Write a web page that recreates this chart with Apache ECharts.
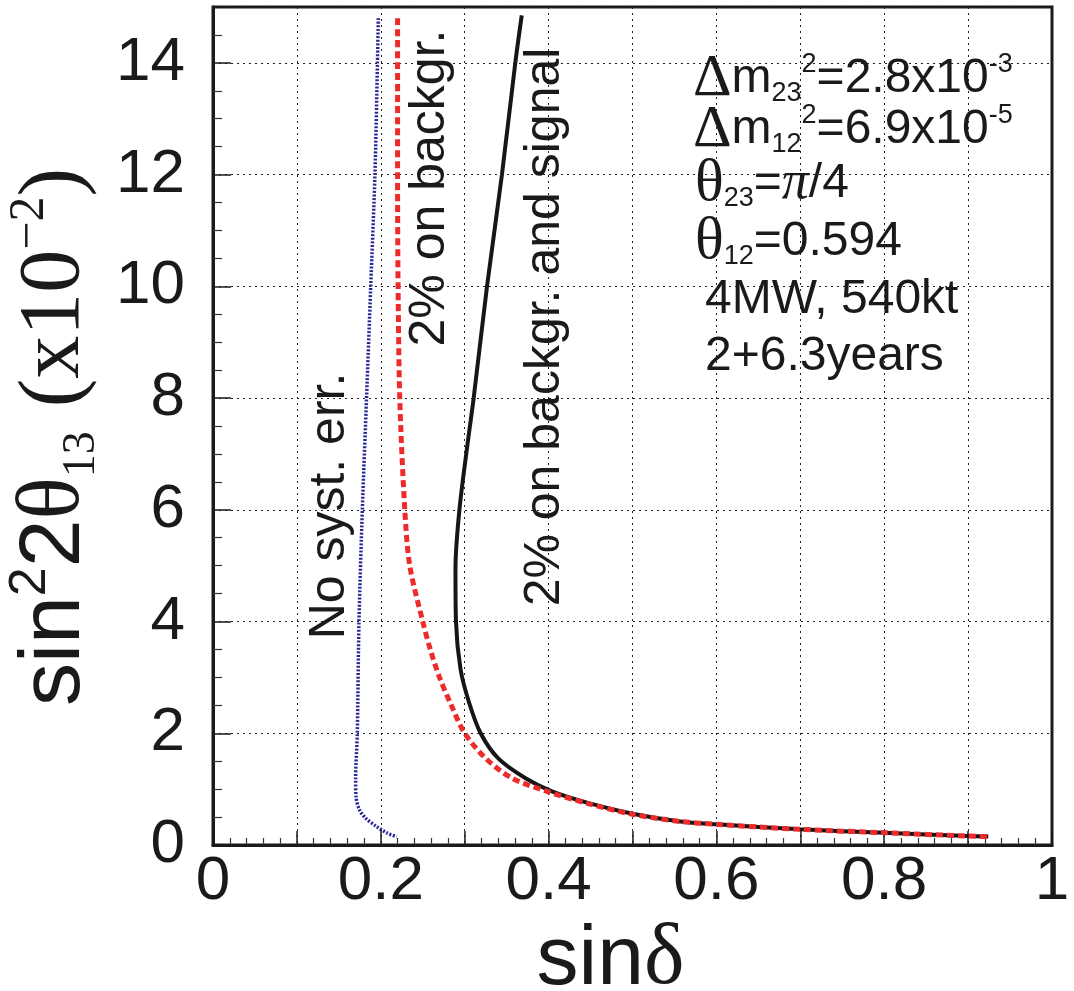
<!DOCTYPE html>
<html>
<head>
<meta charset="utf-8">
<script src="https://cdn.jsdelivr.net/npm/echarts@6/dist/echarts.min.js"></script>
<style>
html,body{margin:0;padding:0;background:#ffffff;}
#chart{width:1074px;height:991px;}
</style>
</head>
<body>
<div id="chart"></div>
<script>
// ---------- data ----------
const xTickLabels = ['0', '0.2', '0.4', '0.6', '0.8', '1'];
const yTickLabels = ['0', '2', '4', '6', '8', '10', '12', '14'];

// "No syst. err." (blue dotted)
const noSystX = [0.197, 0.196, 0.193, 0.188, 0.183, 0.178, 0.174, 0.172, 0.170, 0.1705, 0.1745, 0.182, 0.194, 0.208, 0.219];
const noSystY = [14.8, 14.0, 12.0, 10.0, 8.0, 6.0, 4.0, 2.0, 1.2, 0.86, 0.63, 0.48, 0.34, 0.21, 0.15];

// "2% on backgr." (red dashed)
const bkgX = [0.220, 0.220, 0.220, 0.2206, 0.2226, 0.2286, 0.2345, 0.250, 0.259, 0.270, 0.284, 0.300, 0.325, 0.356, 0.398, 0.445, 0.500, 0.557, 0.600, 0.700, 0.800, 0.900, 0.924];
const bkgY = [14.8, 14.0, 12.0, 10.0, 8.0, 6.0, 5.0, 4.0, 3.5, 3.0, 2.5, 2.0, 1.55, 1.2, 0.96, 0.75, 0.55, 0.42, 0.37, 0.28, 0.22, 0.16, 0.15];

// "2% on backgr. and signal" (black solid)
const bkgSigX = [0.368, 0.3603, 0.3444, 0.3266, 0.3107, 0.304, 0.2937, 0.289, 0.2896, 0.295, 0.305, 0.319, 0.340, 0.372, 0.404, 0.450, 0.500, 0.557, 0.600, 0.700, 0.800, 0.900, 0.924];
const bkgSigY = [14.85, 14.0, 12.0, 10.0, 8.0, 7.25, 6.0, 4.94, 4.0, 3.15, 2.56, 2.0, 1.55, 1.2, 0.96, 0.74, 0.56, 0.42, 0.37, 0.28, 0.22, 0.16, 0.15];

// ---------- styling ----------
const SANS = "'Liberation Sans', Arial, Helvetica, sans-serif";
const SERIF = "'Liberation Serif', 'Times New Roman', Times, serif";
const INK = '#1a1a1a';

const zip = (xs, ys) => xs.map((x, i) => [x, ys[i]]);

const chart = echarts.init(document.getElementById('chart'), null, {renderer: 'canvas'});

const blockRich = {
  t:   {fontFamily: SANS, fontSize: 48, lineHeight: 56, fill: INK},
  g:   {fontFamily: SERIF, fontSize: 60, lineHeight: 56, fill: INK},
  gi:  {fontFamily: SERIF, fontStyle: 'italic', fontSize: 54, lineHeight: 56, fill: INK},
  sub: {fontFamily: SANS, fontSize: 27, lineHeight: 50, verticalAlign: 'bottom', fill: INK},
  sup: {fontFamily: SANS, fontSize: 27, lineHeight: 41, verticalAlign: 'top', fill: INK}
};

function blockText(x, y, text) {
  return {
    type: 'text', x: x, y: y, z: 100,
    style: {text: text, rich: blockRich, fontFamily: SANS, fontSize: 48, fill: INK}
  };
}
function rotText(x, y, text) {
  return {
    type: 'text', x: x, y: y, rotation: Math.PI / 2, z: 100,
    style: {
      text: text, fontFamily: SANS, fontSize: 50, fill: INK,
      align: 'center', verticalAlign: 'middle',
      textAlign: 'center', textVerticalAlign: 'middle'
    }
  };
}

const option = {
  animation: false,
  backgroundColor: '#ffffff',
  grid: {
    left: 213, right: 22, top: 7, bottom: 146,
    outerBoundsMode: 'none', containLabel: false,
    show: true, borderColor: INK, borderWidth: 3, backgroundColor: 'transparent'
  },
  xAxis: {
    type: 'value', min: 0, max: 1, interval: 0.1,
    name: '{a|sin}{d|δ}',
    nameLocation: 'middle', nameGap: 57,
    nameTextStyle: {
      padding: [0, 44, 0, 0],
      rich: {
        a: {fontFamily: SANS, fontSize: 84, lineHeight: 92, color: INK},
        d: {fontFamily: SERIF, fontSize: 86, lineHeight: 92, color: INK}
      }
    },
    axisLine: {show: true, lineStyle: {color: INK, width: 3}},
    axisTick: {show: true, inside: true, length: 14, lineStyle: {color: INK, width: 1.5}},
    minorTick: {show: true, splitNumber: 5, length: 7, lineStyle: {color: '#333', width: 1.2}},
    splitLine: {show: true, lineStyle: {color: '#222', width: 1, type: [2, 4]}},
    axisLabel: {
      margin: 6, color: INK, fontFamily: SANS, fontSize: 62,
      formatter: function (v) {
        const i = Math.round(v * 5);
        return Math.abs(v * 5 - i) < 1e-6 && xTickLabels[i] !== undefined ? xTickLabels[i] : '';
      }
    }
  },
  yAxis: {
    type: 'value', min: 0, max: 15, interval: 2,
    name: '{a|sin}{sp|2}{a|2}{g|θ}{sb|13}{a| }{s|(x10}{ss|−2}{s|)}',
    nameLocation: 'middle', nameGap: 83, nameRotate: 90,
    nameTextStyle: {
      padding: [0, 22, 0, 0],
      rich: {
        a:  {fontFamily: SANS, fontSize: 86, lineHeight: 100, color: INK},
        sp: {fontFamily: SANS, fontSize: 52, lineHeight: 66, verticalAlign: 'top', color: INK},
        g:  {fontFamily: SERIF, fontSize: 88, lineHeight: 100, color: INK},
        sb: {fontFamily: SERIF, fontSize: 46, lineHeight: 80, verticalAlign: 'bottom', color: INK},
        s:  {fontFamily: SERIF, fontSize: 86, lineHeight: 100, color: INK},
        ss: {fontFamily: SERIF, fontSize: 50, lineHeight: 60, verticalAlign: 'top', color: INK}
      }
    },
    axisLine: {show: true, lineStyle: {color: INK, width: 3}},
    axisTick: {show: true, inside: true, length: 18, lineStyle: {color: INK, width: 1.5}},
    minorTick: {show: true, splitNumber: 4, length: 9, lineStyle: {color: '#333', width: 1.2}},
    splitLine: {show: true, lineStyle: {color: '#222', width: 1, type: [2, 4]}},
    axisLabel: {
      margin: 28, color: INK, fontFamily: SANS, fontSize: 62,
      formatter: function (v) {
        const i = v / 2;
        return Number.isInteger(i) && yTickLabels[i] !== undefined ? yTickLabels[i] : '';
      }
    }
  },
  series: [
    {
      type: 'line', name: '2% on backgr. and signal',
      data: zip(bkgSigX, bkgSigY), symbol: 'none', smooth: 0.3, z: 2,
      lineStyle: {color: '#161616', width: 4}
    },
    {
      type: 'line', name: '2% on backgr.',
      data: zip(bkgX, bkgY), symbol: 'none', smooth: 0.3, z: 3,
      lineStyle: {color: '#ee2b2b', width: 5, type: [7, 4]}
    },
    {
      type: 'line', name: 'No syst. err.',
      data: zip(noSystX, noSystY), symbol: 'none', smooth: 0.3, z: 4,
      lineStyle: {color: '#27279a', width: 3.5, type: [2, 1.6]}
    }
  ],
  graphic: [
    rotText(330, 506, 'No syst. err.'),
    rotText(430, 188, '2% on backgr.'),
    rotText(545, 327, '2% on backgr. and signal'),
    blockText(693, 51, '{g|Δ}{t|m}{sub|23}{sup|2}{t|=2.8x10}{sup|-3}'),
    blockText(693, 102, '{g|Δ}{t|m}{sub|12}{sup|2}{t|=6.9x10}{sup|-5}'),
    blockText(695, 156, '{g|θ}{sub|23}{t|=}{gi|π}{t|/4}'),
    blockText(695, 214, '{g|θ}{sub|12}{t|=0.594}'),
    blockText(705, 272, '{t|4MW, 540kt}'),
    blockText(705, 329, '{t|2+6.3years}')
  ]
};

chart.setOption(option);
</script>
</body>
</html>
